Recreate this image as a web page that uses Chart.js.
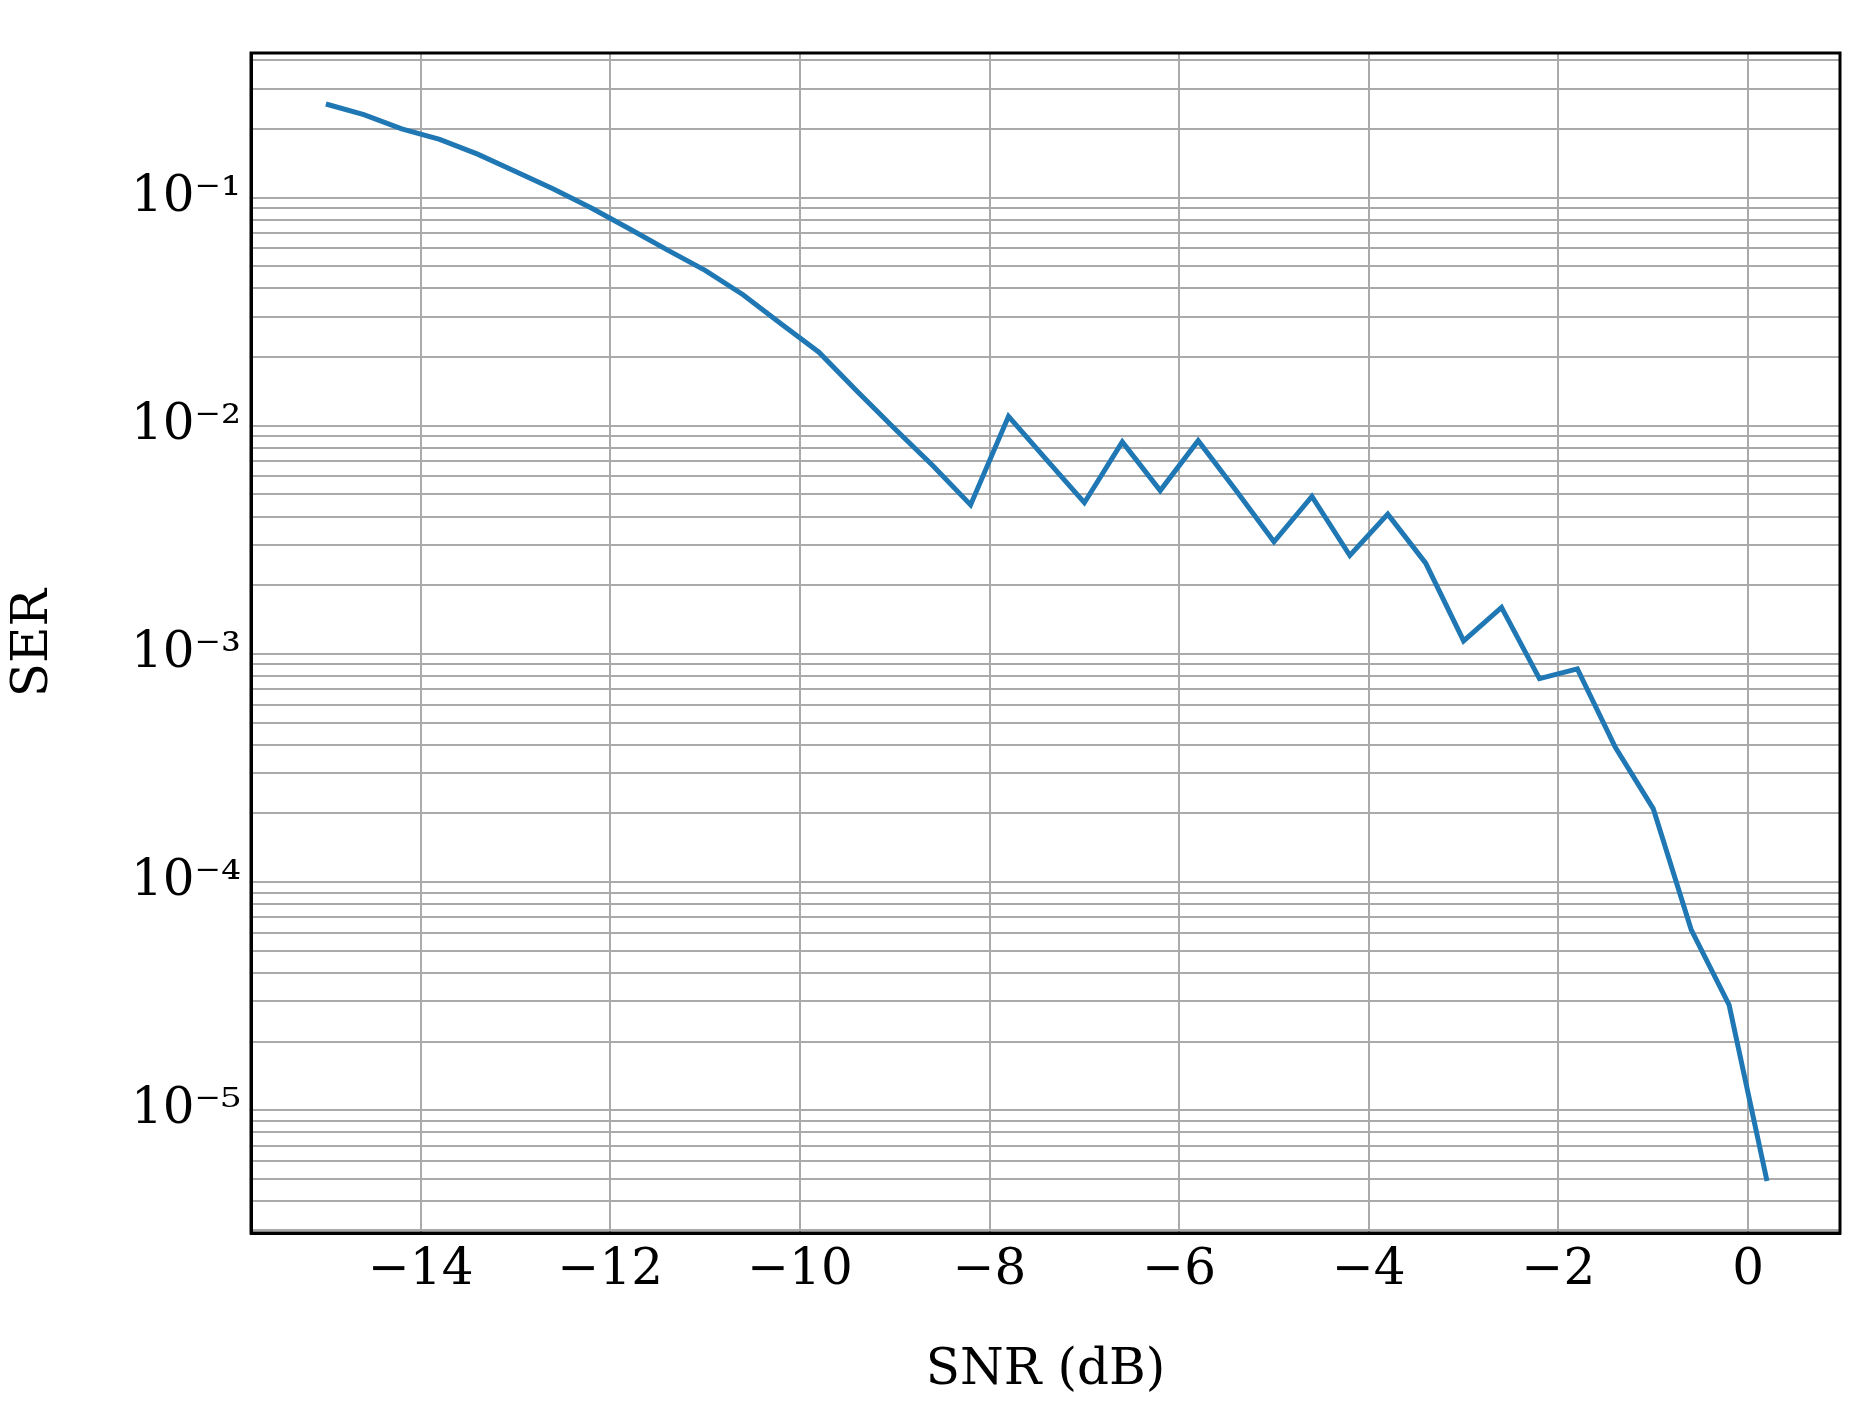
<!DOCTYPE html>
<html><head><meta charset="utf-8">
<script src="https://cdn.jsdelivr.net/npm/chart.js@4/dist/chart.umd.min.js"></script>
<style>html,body{margin:0;background:#fff}#wrap{width:1859px;height:1405px}</style>
</head><body><div id="wrap"><canvas id="c"></canvas></div>
<script>
const snr = [-15,-14.6,-14.2,-13.8,-13.4,-13,-12.6,-12.2,-11.8,-11.4,-11,-10.6,-10.2,-9.8,-9.4,-9,-8.6,-8.2,-7.8,-7.4,-7,-6.6,-6.2,-5.8,-5.4,-5,-4.6,-4.2,-3.8,-3.4,-3,-2.6,-2.2,-1.8,-1.4,-1,-0.6,-0.2,0.2];
const ser = [0.257,0.231,0.20,0.18,0.155,0.13,0.109,0.09,0.073,0.059,0.048,0.0375,0.028,0.021,0.0142,0.0097,0.0067,0.0045,0.011,0.0071,0.0046,0.0085,0.0052,0.0086,0.0052,0.0031,0.0049,0.0027,0.0041,0.0025,0.00114,0.0016,0.00078,0.00086,0.00039,0.00021,0.000062,0.000029,0.0000049];
const xTicks = [-14,-12,-10,-8,-6,-4,-2,0];
const yMajor = [1e-5,1e-4,1e-3,1e-2,1e-1];
const supers = {'-':'\u207B','0':'\u2070','1':'\u00B9','2':'\u00B2','3':'\u00B3','4':'\u2074','5':'\u2075'};
const font = "'DejaVu Serif', serif";
const yTicks = [];
for (let e=-6;e<=0;e++) for (let m=1;m<=9;m++){const v=m*Math.pow(10,e); if(v>=2.9e-6&&v<=0.43) yTicks.push(v);}
new Chart(document.getElementById('c'), {
  type:'line',
  data:{datasets:[{data:snr.map((x,i)=>({x,y:ser[i]})),borderColor:'#1f77b4',borderWidth:5,pointRadius:0,tension:0,fill:false}]},
  options:{responsive:true,maintainAspectRatio:false,animation:false,
    layout:{padding:{top:53,right:19,left:0,bottom:0}},
    plugins:{legend:{display:false},tooltip:{enabled:false}},
    scales:{
      x:{type:'linear',min:-15.79,max:0.97,
        afterBuildTicks:s=>{s.ticks=xTicks.map(v=>({value:v}));},
        afterFit:s=>{s.height=172;},
        ticks:{font:{family:font,size:50},color:'#000',padding:8,callback:v=>(v<0?'\u2212'+(-v):''+v)},
        grid:{color:'#aaa',lineWidth:2,tickLength:0,drawTicks:false},
        border:{color:'#000',width:3,dash:[]},
        title:{display:true,text:'SNR (dB)',font:{family:font,size:50},color:'#000',padding:{top:0}}
      },
      y:{type:'logarithmic',min:2.9e-6,max:0.43,
        afterBuildTicks:s=>{s.ticks=yTicks.map(v=>({value:v,major:yMajor.some(m=>Math.abs(m-v)/m<1e-6)}));},
        afterFit:s=>{s.width=251;},
        ticks:{autoSkip:false,font:{family:font,size:50},color:'#000',padding:10,
          callback:(v)=>{const e=Math.round(Math.log10(v)); if(Math.abs(Math.pow(10,e)-v)/v>1e-6) return ''; return '10'+String(e).split('').map(c=>supers[c]).join('');}},
        grid:{color:'#aaa',lineWidth:2,drawTicks:false},
        border:{color:'#000',width:3},
        title:{display:true,text:'SER',font:{family:font,size:50},color:'#000',padding:{bottom:10}}
      }
    }
  },
  plugins:[{id:'box',beforeDraw(c){const g=c.ctx;g.save();g.setLineDash([]);},afterDraw(c){const a=c.chartArea,g=c.ctx;g.save();g.strokeStyle='#000';g.lineWidth=3;g.setLineDash([]);g.strokeRect(a.left,a.top,a.right-a.left,a.bottom-a.top);g.restore();}},
  {id:'dash',beforeInit(c){c.options.scales.x.grid.borderDash=[12,8];c.options.scales.y.grid.borderDash=[12,8];}}]
});
</script></body></html>
